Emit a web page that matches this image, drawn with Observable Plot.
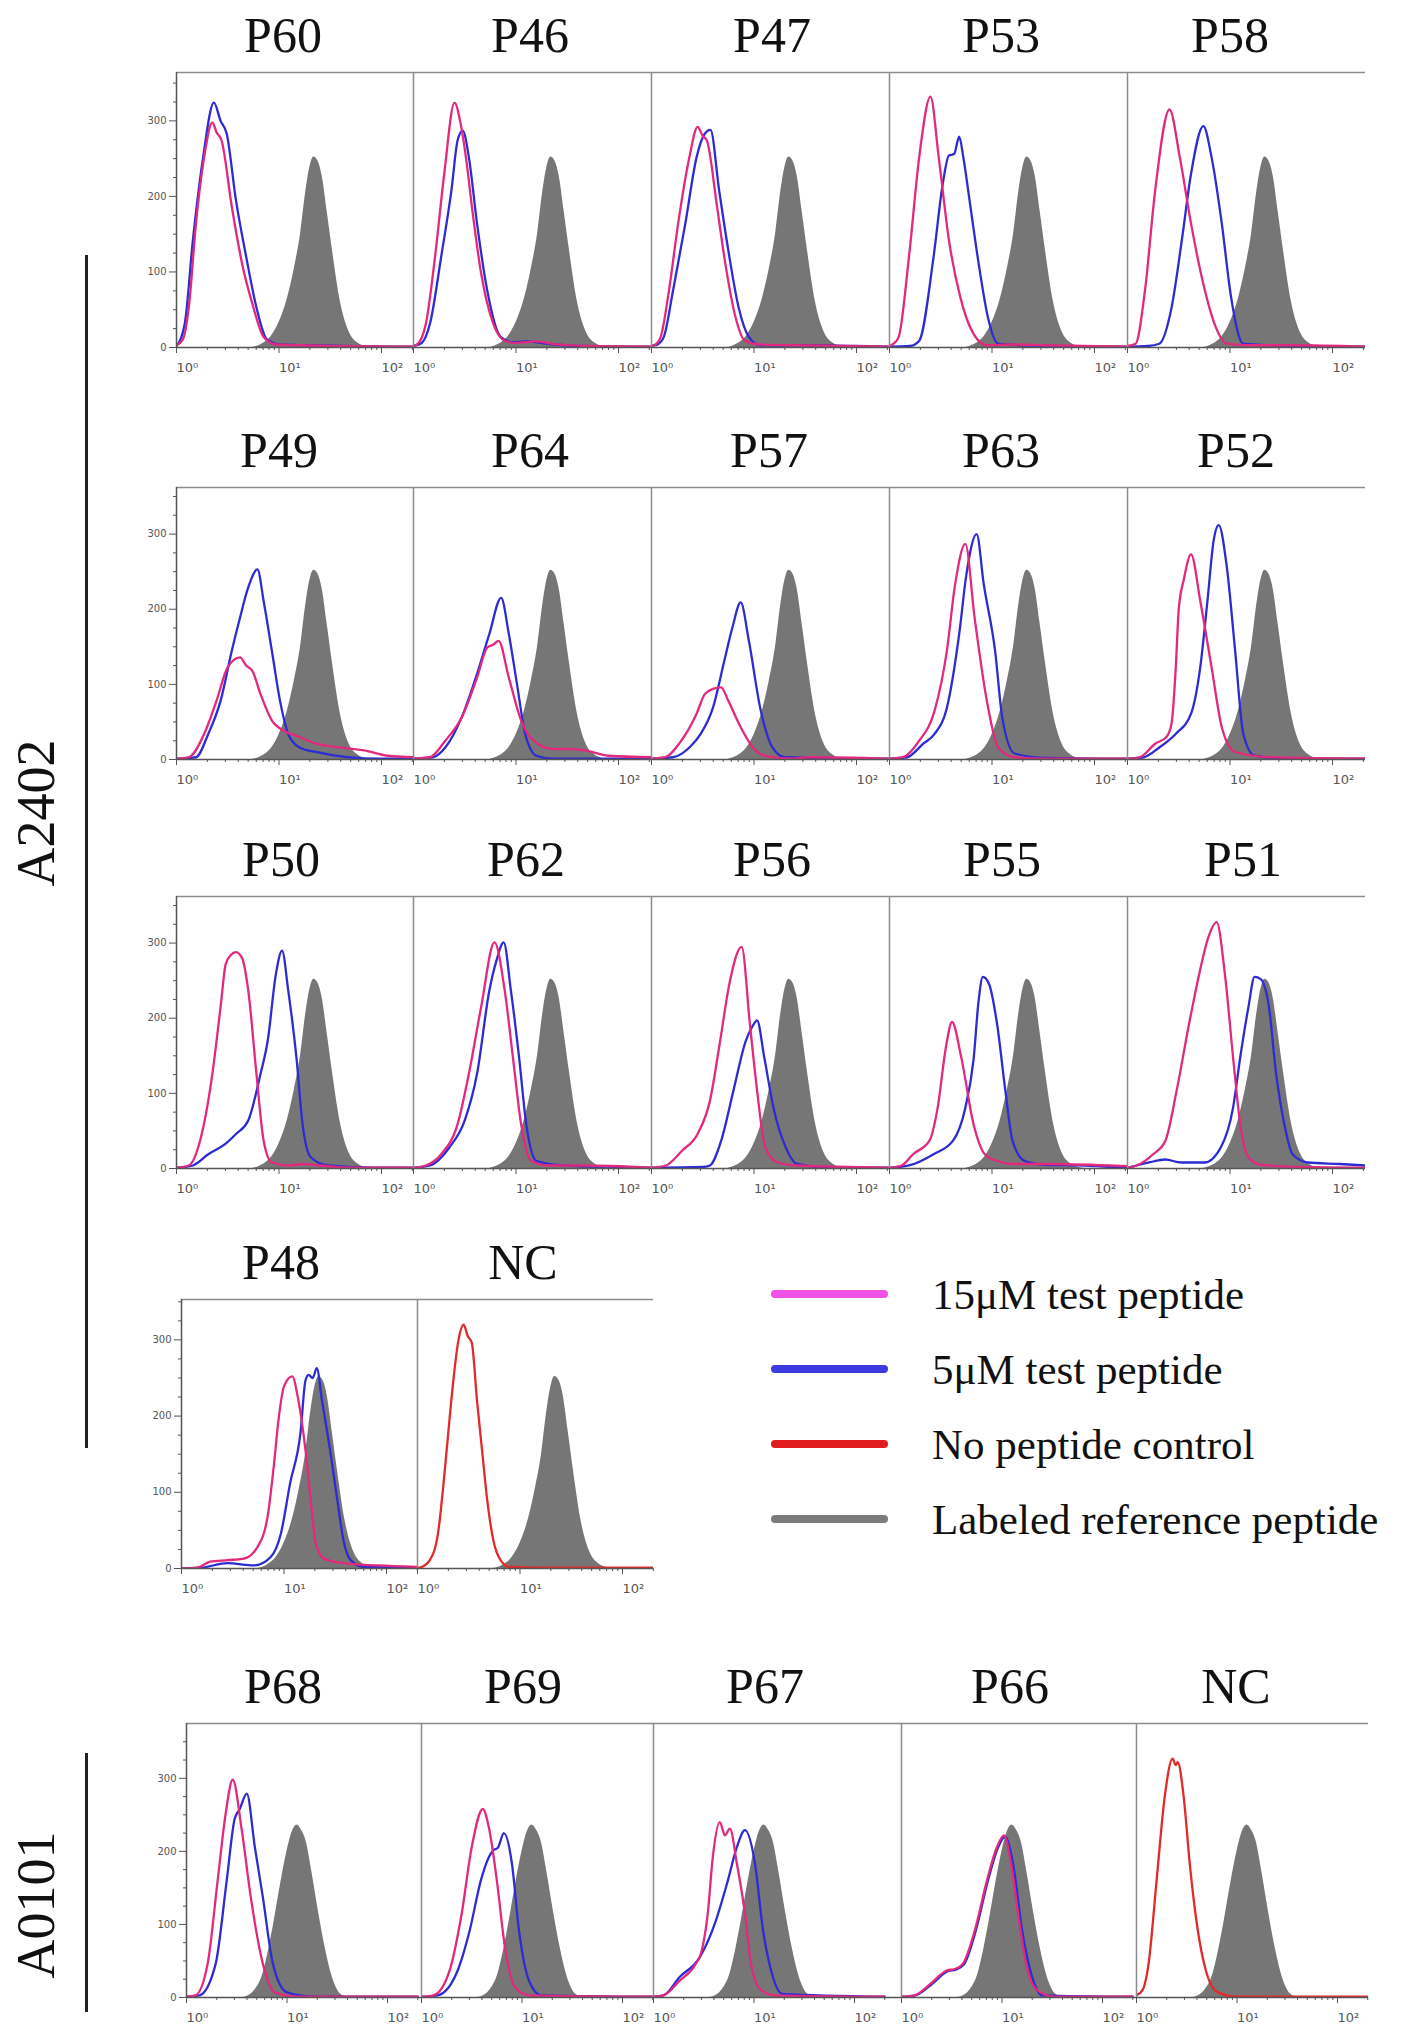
<!DOCTYPE html>
<html><head><meta charset="utf-8">
<script src="https://cdn.jsdelivr.net/npm/d3@7"></script>
<script src="https://cdn.jsdelivr.net/npm/@observablehq/plot@0.6"></script>
<style>
html,body{margin:0;padding:0;background:#fff}
#root{position:relative;width:1418px;height:2044px;overflow:hidden;background:#fff}
</style>
</head><body><div id="root"></div>
<script>
// ---------- tick values / labels ----------
const xMajorTicks = [1, 10, 100];
const xTickLabels = ["10\u2070", "10\u00b9", "10\u00b2"];
const xMinorTicks = [2,3,4,5,6,7,8,9,20,30,40,50,60,70,80,90,200];
const yMajorTicks = [0, 100, 200, 300];
const yMinorTicks = [25,50,75,125,150,175,225,250,275,325,350];

// ---------- legend ----------
const legendLabels = ["15\u03bcM test peptide", "5\u03bcM test peptide", "No peptide control", "Labeled reference peptide"];
const legendColors = ["#f050e6", "#3b3be0", "#e01c1c", "#7c7c7c"];

// ---------- data: [log10(fluorescence), count] ----------
const REF_A2402 = [[0.74,0],[0.84,5],[0.92,14],[1.0,33],[1.08,64],[1.15,105],[1.21,150],[1.26,205],[1.3,238],[1.34,252],[1.38,247],[1.42,228],[1.47,180],[1.52,130],[1.6,60],[1.68,22],[1.77,6],[1.86,1],[1.92,0]];
const REF_A0101 = [[0.56,0],[0.66,7],[0.76,32],[0.86,95],[0.94,158],[1.0,200],[1.05,226],[1.1,236],[1.14,230],[1.19,214],[1.25,170],[1.31,120],[1.38,68],[1.45,28],[1.53,5],[1.6,0]];

const P60_15uM = [[0,3],[0.06,10],[0.12,53],[0.19,164],[0.27,252],[0.35,298],[0.39,285],[0.44,274],[0.54,186],[0.64,111],[0.74,58],[0.85,14],[0.97,4],[1.2,3],[1.5,2],[2.32,1]];
const P60_5uM  = [[0,2],[0.08,31],[0.16,142],[0.26,252],[0.365,324],[0.43,300],[0.49,283],[0.58,195],[0.68,120],[0.78,53],[0.88,11],[1.0,4],[1.3,3],[1.6,2],[2.32,1]];
const P46_15uM = [[0,2],[0.05,6],[0.12,31],[0.21,120],[0.30,230],[0.40,324],[0.46,296],[0.52,243],[0.57,186],[0.66,98],[0.78,31],[0.89,9],[1.0,6],[1.2,8],[1.4,4],[1.7,2],[2.32,1]];
const P46_5uM  = [[0,2],[0.08,6],[0.16,31],[0.27,120],[0.37,208],[0.43,274],[0.48,287],[0.54,252],[0.62,164],[0.72,75],[0.85,14],[0.97,7],[1.1,8],[1.3,5],[1.6,2],[2.32,1]];
const P47_15uM = [[0,2],[0.05,5],[0.09,14],[0.17,75],[0.26,164],[0.37,252],[0.45,292],[0.5,280],[0.54,274],[0.64,186],[0.71,120],[0.82,40],[0.91,9],[1.05,4],[1.4,3],[2.32,1]];
const P47_5uM  = [[0,2],[0.06,4],[0.12,14],[0.21,75],[0.33,164],[0.44,252],[0.52,283],[0.575,288],[0.66,208],[0.75,128],[0.85,53],[0.95,14],[1.06,3],[1.5,3],[2.0,2],[2.32,1]];
const P53_15uM = [[0,2],[0.04,5],[0.09,14],[0.19,120],[0.29,252],[0.40,332],[0.48,252],[0.58,142],[0.69,67],[0.82,18],[0.95,3],[1.2,4],[1.5,3],[2.32,1]];
const P53_5uM  = [[0,1],[0.2,2],[0.29,9],[0.43,120],[0.52,217],[0.58,254],[0.63,256],[0.68,279],[0.72,252],[0.79,186],[0.87,111],[0.96,40],[1.06,5],[1.3,3],[2.32,1]];
const P58_15uM = [[0,2],[0.08,5],[0.17,75],[0.27,208],[0.41,315],[0.51,252],[0.62,164],[0.74,84],[0.85,31],[0.97,5],[1.2,3],[1.6,3],[2.32,1]];
const P58_5uM  = [[0,1],[0.2,2],[0.31,5],[0.43,53],[0.53,142],[0.62,230],[0.74,293],[0.82,252],[0.92,164],[1.01,67],[1.13,5],[1.4,3],[2.32,1]];

const P49_15uM = [[0,1],[0.12,3],[0.27,34],[0.39,78],[0.50,123],[0.62,136],[0.68,125],[0.74,118],[0.82,87],[0.93,52],[1.05,38],[1.2,30],[1.36,21],[1.59,16],[1.83,12],[2.06,5],[2.32,3]];
const P49_5uM  = [[0,1],[0.19,3],[0.31,34],[0.43,78],[0.54,145],[0.62,189],[0.70,229],[0.79,253],[0.85,211],[0.93,145],[1.01,78],[1.09,34],[1.2,16],[1.36,10],[1.67,3],[1.98,1],[2.32,1]];
const P64_15uM = [[0,1],[0.16,3],[0.31,25],[0.47,56],[0.62,109],[0.72,149],[0.78,153],[0.83,158],[0.93,109],[1.05,52],[1.17,25],[1.36,14],[1.52,14],[1.67,12],[1.9,5],[2.32,3]];
const P64_5uM  = [[0,1],[0.19,3],[0.31,16],[0.47,56],[0.62,114],[0.74,167],[0.855,215],[0.93,167],[1.01,100],[1.09,34],[1.2,5],[1.36,1],[2.32,1]];
const P57_15uM = [[0,1],[0.13,3],[0.29,25],[0.44,61],[0.52,87],[0.60,94],[0.68,96],[0.75,78],[0.87,43],[0.99,16],[1.10,5],[1.38,1],[1.53,3],[2.32,1]];
const P57_5uM  = [[0,1],[0.21,3],[0.37,16],[0.48,34],[0.60,69],[0.71,131],[0.79,176],[0.87,209],[0.95,158],[1.06,69],[1.18,16],[1.3,3],[2.32,1]];
const P63_15uM = [[0,1],[0.13,3],[0.29,25],[0.44,65],[0.56,145],[0.64,233],[0.74,287],[0.83,189],[0.95,78],[1.06,16],[1.22,3],[1.53,1],[2.32,1]];
const P63_5uM  = [[0,1],[0.17,3],[0.33,21],[0.44,34],[0.56,69],[0.68,167],[0.75,246],[0.85,300],[0.92,233],[1.03,145],[1.1,56],[1.22,8],[1.53,2],[2.07,1],[2.32,1]];
const P52_15uM = [[0,1],[0.12,3],[0.27,21],[0.38,30],[0.43,48],[0.47,120],[0.5,200],[0.55,240],[0.62,273],[0.71,211],[0.82,123],[0.92,43],[1.05,10],[1.4,3],[2.32,1]];
const P52_5uM  = [[0,1],[0.16,3],[0.31,16],[0.47,34],[0.62,61],[0.71,123],[0.78,211],[0.84,291],[0.89,312],[0.97,255],[1.05,145],[1.13,34],[1.24,5],[1.55,1],[2.32,1]];

const P50_15uM = [[0,1],[0.12,4],[0.23,37],[0.35,126],[0.43,215],[0.48,272],[0.53,284],[0.58,288],[0.64,280],[0.70,237],[0.78,126],[0.85,37],[0.93,8],[1.09,4],[1.24,6],[1.40,4],[1.71,1],[2.32,1]];
const P50_5uM  = [[0,1],[0.16,4],[0.31,19],[0.47,32],[0.58,46],[0.70,64],[0.82,126],[0.89,170],[0.97,259],[1.03,290],[1.09,237],[1.17,148],[1.23,59],[1.31,15],[1.48,4],[1.94,1],[2.32,1]];
const P62_15uM = [[0,1],[0.12,4],[0.27,19],[0.43,59],[0.54,126],[0.66,215],[0.79,301],[0.89,237],[0.97,148],[1.05,59],[1.15,10],[1.32,4],[1.63,4],[2.32,1]];
const P62_5uM  = [[0,1],[0.16,4],[0.35,28],[0.5,64],[0.62,126],[0.74,237],[0.81,277],[0.88,301],[0.95,237],[1.03,148],[1.1,59],[1.2,10],[1.48,4],[2.02,2],[2.32,1]];
const P56_15uM = [[0,1],[0.14,4],[0.30,24],[0.45,46],[0.57,90],[0.67,170],[0.76,246],[0.88,295],[0.96,192],[1.03,104],[1.11,28],[1.23,8],[1.42,4],[2.32,1]];
const P56_5uM  = [[0,1],[0.5,2],[0.57,4],[0.68,37],[0.8,104],[0.92,170],[0.98,188],[1.03,197],[1.10,148],[1.19,81],[1.31,28],[1.42,6],[1.66,2],[2.32,1]];
const P55_15uM = [[0,1],[0.12,4],[0.23,19],[0.39,37],[0.47,81],[0.55,161],[0.61,195],[0.70,148],[0.82,59],[0.93,19],[1.05,10],[1.2,6],[1.52,6],[2.14,4],[2.32,3]];
const P55_5uM  = [[0,1],[0.19,4],[0.43,19],[0.62,37],[0.74,81],[0.82,145],[0.87,224],[0.91,255],[0.97,246],[1.05,192],[1.13,104],[1.2,37],[1.32,10],[1.52,5],[1.9,4],[2.2,2],[2.32,2]];
const P51_15uM = [[0,1],[0.09,4],[0.25,19],[0.37,37],[0.48,104],[0.6,192],[0.7,259],[0.78,304],[0.87,328],[0.95,259],[1.03,148],[1.1,59],[1.18,15],[1.3,5],[1.69,2],[2.32,1]];
const P51_5uM  = [[0,1],[0.09,4],[0.21,8],[0.37,12],[0.52,8],[0.75,8],[0.91,28],[1.03,81],[1.1,148],[1.18,215],[1.24,255],[1.30,252],[1.38,215],[1.45,126],[1.53,59],[1.61,19],[1.76,8],[2.07,6],[2.32,4]];

const P48_15uM = [[0,0],[0.15,1],[0.28,9],[0.45,11],[0.61,13],[0.74,28],[0.84,68],[0.9,134],[0.95,199],[1.0,239],[1.08,252],[1.14,221],[1.21,155],[1.26,90],[1.31,33],[1.39,13],[1.58,7],[1.91,4],[2.3,2]];
const P48_5uM  = [[0,0],[0.19,1],[0.45,7],[0.71,4],[0.87,15],[0.97,46],[1.06,112],[1.16,177],[1.21,247],[1.24,254],[1.28,250],[1.32,263],[1.37,221],[1.45,155],[1.52,90],[1.58,37],[1.65,11],[1.78,2],[2.3,1]];
const NC_A2402 = [[0,1],[0.04,2],[0.12,11],[0.20,46],[0.27,134],[0.33,221],[0.40,300],[0.45,320],[0.49,305],[0.53,296],[0.58,221],[0.63,155],[0.68,90],[0.74,37],[0.81,11],[0.9,2],[1.2,1],[2.3,1]];

const P68_15uM = [[0,1],[0.09,3],[0.21,46],[0.31,160],[0.39,252],[0.46,298],[0.55,229],[0.64,137],[0.76,46],[0.88,7],[1.12,1],[1.5,1],[2.3,1]];
const P68_5uM  = [[0,1],[0.13,3],[0.29,46],[0.40,160],[0.48,245],[0.53,258],[0.60,279],[0.68,206],[0.76,137],[0.86,46],[1.0,7],[1.28,1],[2.3,1]];
const P69_15uM = [[0,1],[0.12,3],[0.28,37],[0.40,115],[0.50,206],[0.61,258],[0.67,233],[0.75,160],[0.83,69],[0.93,14],[1.07,3],[2.3,1]];
const P69_5uM  = [[0,1],[0.16,3],[0.36,37],[0.48,92],[0.59,160],[0.67,192],[0.71,201],[0.76,205],[0.82,225],[0.90,183],[0.97,92],[1.07,23],[1.19,3],[2.3,1]];
const P67_15uM = [[0,1],[0.1,3],[0.26,23],[0.42,46],[0.48,64],[0.54,115],[0.59,192],[0.66,240],[0.71,222],[0.76,231],[0.83,183],[0.91,115],[0.97,46],[1.07,10],[1.21,3],[2.3,1]];
const P67_5uM  = [[0,1],[0.1,3],[0.26,28],[0.46,55],[0.62,105],[0.74,160],[0.83,206],[0.91,229],[1.01,183],[1.09,92],[1.17,37],[1.28,5],[2.3,1]];
const P66_15uM = [[0,1],[0.13,3],[0.29,19],[0.45,37],[0.53,39],[0.61,46],[0.73,92],[0.85,160],[0.95,206],[1.02,222],[1.09,183],[1.16,115],[1.24,46],[1.35,10],[1.52,1],[2.3,1]];
const P66_5uM  = [[0,1],[0.14,3],[0.30,18],[0.46,36],[0.54,38],[0.62,45],[0.74,92],[0.86,160],[0.96,205],[1.03,220],[1.11,183],[1.2,92],[1.3,28],[1.4,3],[2.3,1]];
const NC_A0101 = [[0,3],[0.06,10],[0.12,46],[0.20,160],[0.28,274],[0.36,327],[0.39,318],[0.41,322],[0.47,274],[0.53,183],[0.61,92],[0.69,37],[0.81,7],[1.0,1],[2.3,1]];

// ---------- colours ----------
const GREY = "#767676", MAG = "#e2297d", BLUE = "#2c2cd2", RED = "#e22a2a";

// ---------- panel table (built from the arrays above) ----------
const panelRows = [
  [["P60", REF_A2402, [[P60_5uM, BLUE], [P60_15uM, MAG]]],
   ["P46", REF_A2402, [[P46_5uM, BLUE], [P46_15uM, MAG]]],
   ["P47", REF_A2402, [[P47_5uM, BLUE], [P47_15uM, MAG]]],
   ["P53", REF_A2402, [[P53_5uM, BLUE], [P53_15uM, MAG]]],
   ["P58", REF_A2402, [[P58_5uM, BLUE], [P58_15uM, MAG]]]],
  [["P49", REF_A2402, [[P49_5uM, BLUE], [P49_15uM, MAG]]],
   ["P64", REF_A2402, [[P64_5uM, BLUE], [P64_15uM, MAG]]],
   ["P57", REF_A2402, [[P57_5uM, BLUE], [P57_15uM, MAG]]],
   ["P63", REF_A2402, [[P63_5uM, BLUE], [P63_15uM, MAG]]],
   ["P52", REF_A2402, [[P52_5uM, BLUE], [P52_15uM, MAG]]]],
  [["P50", REF_A2402, [[P50_5uM, BLUE], [P50_15uM, MAG]]],
   ["P62", REF_A2402, [[P62_5uM, BLUE], [P62_15uM, MAG]]],
   ["P56", REF_A2402, [[P56_5uM, BLUE], [P56_15uM, MAG]]],
   ["P55", REF_A2402, [[P55_5uM, BLUE], [P55_15uM, MAG]]],
   ["P51", REF_A2402, [[P51_5uM, BLUE], [P51_15uM, MAG]]]],
  [["P48", REF_A2402, [[P48_5uM, BLUE], [P48_15uM, MAG]]],
   ["NC", REF_A2402, [[NC_A2402, RED]]]],
  [["P68", REF_A0101, [[P68_5uM, BLUE], [P68_15uM, MAG]]],
   ["P69", REF_A0101, [[P69_5uM, BLUE], [P69_15uM, MAG]]],
   ["P67", REF_A0101, [[P67_5uM, BLUE], [P67_15uM, MAG]]],
   ["P66", REF_A0101, [[P66_5uM, BLUE], [P66_15uM, MAG]]],
   ["NC", REF_A0101, [[NC_A0101, RED]]]]
];

// ---------- layout ----------
const L123 = [176, 413, 651, 889, 1127], W123 = [237, 238, 238, 238, 238];
const layout = [
  {top: 72,   bottom: 347,  lefts: L123, widths: W123, decade: 102.5, ymax: 364, titleY: 52,   titleX: [283, 530, 772, 1001, 1230]},
  {top: 487,  bottom: 759,  lefts: L123, widths: W123, decade: 102.5, ymax: 362, titleY: 467,  titleX: [279, 530, 769, 1001, 1236]},
  {top: 896,  bottom: 1168, lefts: L123, widths: W123, decade: 102.5, ymax: 362, titleY: 876,  titleX: [281, 526, 772, 1002, 1243]},
  {top: 1299, bottom: 1568, lefts: [181, 417], widths: [236, 236], decade: 102.5, ymax: 353, titleY: 1279, titleX: [281, 523]},
  {top: 1723, bottom: 1997, lefts: [186, 421, 653, 901, 1136], widths: [235, 232, 248, 235, 232], decade: 100.5, ymax: 375, titleY: 1703, titleX: [283, 523, 765, 1010, 1236]}
];

const root = document.getElementById("root");
const SERIF = "'Liberation Serif','Times New Roman',serif";

// overlay: titles, side labels, legend
const ov = d3.select(root).append("svg")
  .attr("width", 1418).attr("height", 2044)
  .style("position", "absolute").style("left", "0px").style("top", "0px");

panelRows.forEach((row, r) => {
  row.forEach((p, c) => {
    ov.append("text").attr("x", layout[r].titleX[c]).attr("y", layout[r].titleY)
      .attr("text-anchor", "middle").attr("font-family", SERIF).attr("font-size", 50)
      .attr("fill", "#111").text(p[0]);
  });
});

// side group labels
ov.append("rect").attr("x", 85).attr("y", 255).attr("width", 3).attr("height", 1193).attr("fill", "#222");
ov.append("rect").attr("x", 85).attr("y", 1753).attr("width", 3).attr("height", 259).attr("fill", "#222");
[["A2402", 813], ["A0101", 1905]].forEach(([t, cy]) => {
  ov.append("text").attr("transform", `translate(54,${cy}) rotate(-90)`)
    .attr("text-anchor", "middle").attr("font-family", SERIF).attr("font-size", 54)
    .attr("fill", "#111").text(t);
});

// legend
const legY = [1294, 1369, 1444, 1519];
legendLabels.forEach((lab, i) => {
  ov.append("line").attr("x1", 775).attr("x2", 884).attr("y1", legY[i]).attr("y2", legY[i])
    .attr("stroke", legendColors[i]).attr("stroke-width", 8).attr("stroke-linecap", "round");
  ov.append("text").attr("x", 932).attr("y", legY[i] + 15)
    .attr("font-family", SERIF).attr("font-size", 43).attr("fill", "#111").text(lab);
});

// ---------- panels ----------
function drawPanel(p, Lr, col) {
  const [name, ref, series] = p;
  const left = Lr.lefts[col], w = Lr.widths[col];
  const h = Lr.bottom - Lr.top;
  const mL = 48, mR = 2, mT = 3, mB = 38;
  const xmax = Math.pow(10, w / Lr.decade);
  const rowsOf = a => a.map(([lx, c]) => ({x: Math.pow(10, lx), y: c}));
  const first = col === 0;
  const marks = [
    Plot.areaY(rowsOf(ref), {x: "x", y: "y", fill: GREY, curve: "monotone-x", clip: true}),
    ...series.map(([arr, color]) => Plot.line(rowsOf(arr), {x: "x", y: "y", stroke: color, strokeWidth: 2.3, curve: "monotone-x", clip: true})),
    Plot.ruleY([Lr.ymax], {stroke: "#8c8c8c", strokeWidth: 1.6}),
    Plot.ruleX([1], {stroke: first ? "#555" : "#8c8c8c", strokeWidth: 1.5}),
    Plot.ruleY([0], {stroke: "#555", strokeWidth: 1.4}),
    Plot.axisX({ticks: xMinorTicks, tickSize: 3, tickFormat: () => "", label: null}),
    Plot.axisX({ticks: xMajorTicks, tickSize: 6, tickPadding: 9, tickFormat: d => xTickLabels[xMajorTicks.indexOf(d)],
      textAnchor: "start", dx: 0, label: null, fontSize: 13})
  ];
  if (first) {
    marks.push(Plot.axisY({ticks: yMinorTicks, tickSize: 3, tickFormat: () => "", label: null}));
    marks.push(Plot.axisY({ticks: yMajorTicks, tickSize: 7, tickPadding: 3, label: null, fontSize: 10}));
  }
  const plot = Plot.plot({
    width: mL + w + mR, height: mT + h + mB,
    marginLeft: mL, marginRight: mR, marginTop: mT, marginBottom: mB,
    x: {type: "log", domain: [1, xmax], axis: null, label: null},
    y: {domain: [0, Lr.ymax], axis: null, label: null},
    style: {background: "transparent", overflow: "visible", color: "#555", fontFamily: "'DejaVu Sans',sans-serif", fontSize: "10px", maxWidth: "none"},
    marks
  });
  const div = document.createElement("div");
  div.style.position = "absolute";
  div.style.left = (left - mL) + "px";
  div.style.top = (Lr.top - mT) + "px";
  div.style.width = (mL + w + mR) + "px";
  div.appendChild(plot);
  root.appendChild(div);
}

panelRows.forEach((row, r) => row.forEach((p, c) => drawPanel(p, layout[r], c)));
</script>
</body></html>
